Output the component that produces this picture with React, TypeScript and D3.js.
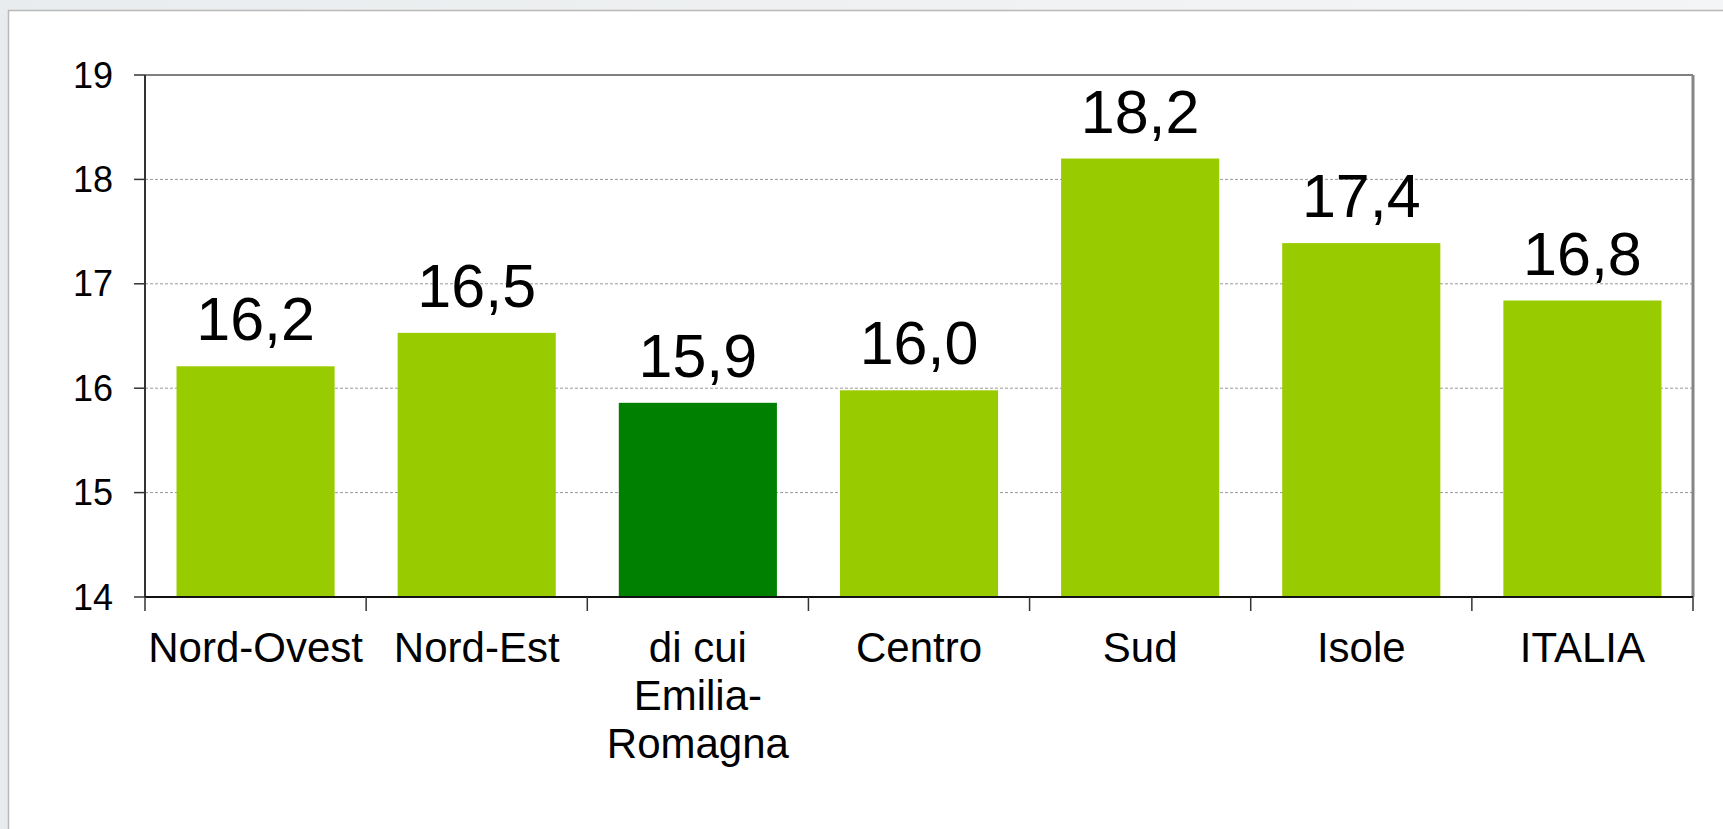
import React from "react";
import * as d3 from "d3";

const categories = ["Nord-Ovest", "Nord-Est", "di cui\nEmilia-\nRomagna", "Centro", "Sud", "Isole", "ITALIA"];
const values = [16.21, 16.53, 15.86, 15.98, 18.2, 17.39, 16.84];
const barColors = ["#99CC00", "#99CC00", "#008000", "#99CC00", "#99CC00", "#99CC00", "#99CC00"];
const yTicks = [14, 15, 16, 17, 18, 19];

const W = 1723;
const H = 829;
const plot = { left: 145, right: 1693, top: 75, bottom: 597 };
const FONT = "Liberation Sans, Arial, sans-serif";

export default function App() {
  const x = d3
    .scaleBand<number>()
    .domain(d3.range(categories.length))
    .range([plot.left, plot.right])
    .paddingInner(0.285)
    .paddingOuter(0.1425);
  const y = d3.scaleLinear().domain([14, 19]).range([plot.bottom, plot.top]);
  const step = (plot.right - plot.left) / categories.length;
  const fmt = (v: number) => d3.format(".1f")(v).replace(".", ",");

  return (
    <svg width={W} height={H} style={{ position: "absolute", left: 0, top: 0 }} fontFamily={FONT}>
      <defs>
        <linearGradient id="bg" x1="0" y1="0" x2="1" y2="0">
          <stop offset="0" stopColor="#e9ecee" />
          <stop offset="1" stopColor="#f4f5f6" />
        </linearGradient>
      </defs>
      <rect x={0} y={0} width={W} height={H} fill="url(#bg)" />
      <rect x={8.5} y={10.5} width={W} height={H} fill="#ffffff" stroke="#b9b9b9" strokeWidth={1.5} />

      {/* gridlines */}
      {yTicks.slice(1, -1).map((t) => (
        <line
          key={"g" + t}
          x1={plot.left}
          x2={plot.right}
          y1={y(t)}
          y2={y(t)}
          stroke="#9a9a9a"
          strokeWidth={1}
          strokeDasharray="3,2"
        />
      ))}

      {/* bars */}
      {values.map((v, i) => (
        <rect
          key={"b" + i}
          x={x(i)!}
          y={y(v)}
          width={x.bandwidth()}
          height={plot.bottom - y(v)}
          fill={barColors[i]}
        />
      ))}

      {/* plot border top and right */}
      <line x1={plot.left} x2={plot.right} y1={plot.top} y2={plot.top} stroke="#808080" strokeWidth={2} />
      <line x1={plot.right} x2={plot.right} y1={plot.top} y2={plot.bottom} stroke="#858585" strokeWidth={3} />

      {/* y axis */}
      <line x1={plot.left} x2={plot.left} y1={plot.top} y2={plot.bottom} stroke="#333333" strokeWidth={2} />
      {yTicks.map((t) => (
        <g key={"yt" + t}>
          <line x1={plot.left - 11} x2={plot.left} y1={y(t)} y2={y(t)} stroke="#333333" strokeWidth={1.5} />
          <text x={113} y={y(t)} dy="0.35em" textAnchor="end" fontSize={36} fill="#000">
            {t}
          </text>
        </g>
      ))}

      {/* x axis */}
      <line x1={plot.left} x2={plot.right} y1={plot.bottom} y2={plot.bottom} stroke="#111111" strokeWidth={2} />
      {d3.range(categories.length + 1).map((i) => (
        <line
          key={"xt" + i}
          x1={plot.left + i * step}
          x2={plot.left + i * step}
          y1={plot.bottom}
          y2={plot.bottom + 14}
          stroke="#333333"
          strokeWidth={1.5}
        />
      ))}
      {categories.map((c, i) => (
        <text
          key={"xl" + i}
          x={x(i)! + x.bandwidth() / 2}
          y={662}
          textAnchor="middle"
          fontSize={42}
          fill="#000"
        >
          {c.split("\n").map((line, j) => (
            <tspan key={j} x={x(i)! + x.bandwidth() / 2} dy={j === 0 ? 0 : 48}>
              {line}
            </tspan>
          ))}
        </text>
      ))}

      {/* value labels */}
      {values.map((v, i) => (
        <text
          key={"vl" + i}
          x={x(i)! + x.bandwidth() / 2}
          y={y(v) - 26}
          textAnchor="middle"
          fontSize={61}
          fill="#000"
        >
          {fmt(v)}
        </text>
      ))}
    </svg>
  );
}
